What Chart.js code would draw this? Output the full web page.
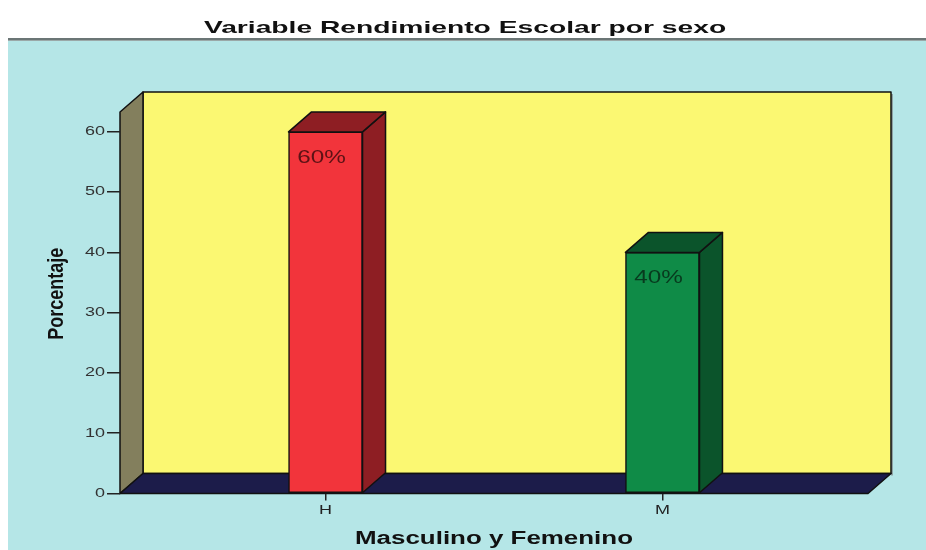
<!DOCTYPE html>
<html><head><meta charset="utf-8">
<script src="https://cdn.jsdelivr.net/npm/chart.js@4.4.0/dist/chart.umd.min.js"></script>
<style>html,body{margin:0;padding:0;background:#fff}#wrap{width:926px;height:550px}</style>
</head><body><div id="wrap"><canvas id="c" width="926" height="550"></canvas></div>
<script>
const chartTitle = 'Variable Rendimiento Escolar por sexo';
const categories = ['H', 'M'];
const values = [60, 40];
const valueLabels = ['60%', '40%'];
const yTicks = [0, 10, 20, 30, 40, 50, 60];
const xTitle = 'Masculino y Femenino';
const yTitle = 'Porcentaje';

const frontColors = ['#f2343b', '#0f8b47'];
const sideColors = ['#8e1e23', '#0b542b'];
const labelColors = ['#5c1215', '#083a1e'];
const DX = 23, DY = 20;

// draw text stretched (the reference renders its text horizontally widened)
function stretchedFill(ctx, sx, sy) {
  const ft = CanvasRenderingContext2D.prototype.fillText;
  ctx.fillText = function (t, x, y) {
    ctx.save();
    ctx.translate(x, y);
    ctx.scale(sx, sy);
    ft.call(ctx, t, 0, 0);
    ctx.restore();
  };
  return () => { delete ctx.fillText; };
}

const stretchPlugin = {
  id: 'stretch',
  beforeDraw(chart) {
    const ctx = chart.ctx;
    const wrap = (obj, name, sx, sy, dx, dy) => {
      if (!obj || obj['_w_' + name]) return;
      const orig = obj[name];
      obj[name] = function (...a) {
        ctx.save();
        ctx.translate(dx || 0, dy || 0);
        const undo = stretchedFill(ctx, sx, sy);
        let r;
        try { r = orig.apply(this, a); } finally { undo(); ctx.restore(); }
        return r;
      };
      obj['_w_' + name] = true;
    };
    wrap(chart.scales.x, 'drawTitle', 1.44, 1);
    wrap(chart.scales.y, 'drawTitle', 1, 1.25, 0, -9);
    wrap(chart.scales.x, 'drawLabels', 1.5, 1);
    wrap(chart.scales.y, 'drawLabels', 1.5, 1);
    wrap(chart.titleBlock, 'draw', 1.66, 1, 31, 0);
  }
};

const backPlugin = {
  id: 'back',
  beforeDraw(chart) {
    const ctx = chart.ctx;
    const a = chart.chartArea;
    ctx.save();
    ctx.fillStyle = '#ffffff';
    ctx.fillRect(0, 0, chart.width, chart.height);
    ctx.fillStyle = '#b5e6e7';
    ctx.fillRect(8, 40, chart.width - 8, chart.height - 40);
    ctx.fillStyle = '#6b7676';
    ctx.fillRect(8, 38, chart.width - 8, 2);
    ctx.fillStyle = '#9aa8a8';
    ctx.fillRect(8, 40, chart.width - 8, 1);

    ctx.lineJoin = 'round';
    ctx.lineWidth = 1.5;
    ctx.strokeStyle = '#111';
    ctx.fillStyle = '#8fa3a3';
    ctx.fillRect(a.right + DX, a.top - DY + 2, 2, a.bottom - a.top);
    // back wall
    ctx.fillStyle = '#fbf872';
    ctx.beginPath();
    ctx.rect(a.left + DX, a.top - DY, a.right - a.left, a.bottom - a.top);
    ctx.fill(); ctx.stroke();
    // left wall
    ctx.fillStyle = '#837f5d';
    ctx.beginPath();
    ctx.moveTo(a.left, a.top);
    ctx.lineTo(a.left + DX, a.top - DY);
    ctx.lineTo(a.left + DX, a.bottom - DY);
    ctx.lineTo(a.left, a.bottom);
    ctx.closePath();
    ctx.fill(); ctx.stroke();
    // floor
    ctx.fillStyle = '#1c1c4a';
    ctx.beginPath();
    ctx.moveTo(a.left, a.bottom);
    ctx.lineTo(a.left + DX, a.bottom - DY);
    ctx.lineTo(a.right + DX, a.bottom - DY);
    ctx.lineTo(a.right, a.bottom);
    ctx.closePath();
    ctx.fill(); ctx.stroke();
    ctx.restore();
  }
};

const barPlugin = {
  id: 'bar3d',
  afterDatasetsDraw(chart) {
    const ctx = chart.ctx;
    const meta = chart.getDatasetMeta(0);
    ctx.save();
    ctx.lineJoin = 'round';
    ctx.lineWidth = 1.5;
    ctx.strokeStyle = '#111';
    meta.data.forEach((el, i) => {
      const p = el.getProps(['x', 'y', 'base', 'width'], true);
      const l = p.x - p.width / 2, r = p.x + p.width / 2;
      ctx.fillStyle = sideColors[i];
      ctx.beginPath();
      ctx.moveTo(r, p.y);
      ctx.lineTo(r + DX, p.y - DY);
      ctx.lineTo(r + DX, p.base - DY);
      ctx.lineTo(r, p.base);
      ctx.closePath();
      ctx.fill(); ctx.stroke();
      ctx.beginPath();
      ctx.moveTo(l, p.y);
      ctx.lineTo(l + DX, p.y - DY);
      ctx.lineTo(r + DX, p.y - DY);
      ctx.lineTo(r, p.y);
      ctx.closePath();
      ctx.fill(); ctx.stroke();
      ctx.fillStyle = labelColors[i];
      ctx.font = '18px "Liberation Sans"';
      ctx.textAlign = 'center';
      ctx.textBaseline = 'middle';
      ctx.save();
      ctx.translate(p.x - 4, p.y + 26);
      ctx.scale(1.35, 1);
      ctx.fillText(valueLabels[i], 0, 0);
      ctx.restore();
    });
    ctx.restore();
  }
};

new Chart(document.getElementById('c'), {
  type: 'bar',
  data: {
    datasets: [{
      data: categories.map((c, i) => ({ x: i, y: values[i] })),
      backgroundColor: frontColors,
      borderColor: '#111',
      borderWidth: 1.5,
      borderSkipped: false,
      barThickness: 74
    }]
  },
  options: {
    responsive: false,
    animation: false,
    devicePixelRatio: 1,
    layout: { padding: { left: 0, right: 58, top: 0, bottom: 0 } },
    plugins: {
      legend: { display: false },
      tooltip: { enabled: false },
      title: {
        display: true, text: chartTitle, color: '#111',
        font: { family: 'Liberation Sans', size: 17, weight: 'bold', lineHeight: 1.2 },
        padding: { top: 18, bottom: 73.6 }
      }
    },
    scales: {
      x: {
        type: 'linear', min: -0.61, max: 1.61, offset: false,
        afterBuildTicks: s => { s.ticks = categories.map((c, i) => ({ value: i })); },
        afterFit: s => { s.height = 56.5; },
        ticks: { callback: v => categories[v], color: '#222', font: { family: 'Liberation Sans', size: 12 }, padding: 3, autoSkip: false, maxRotation: 0 },
        grid: { offset: false, drawOnChartArea: false, drawTicks: true, tickLength: 7, color: '#222', lineWidth: 1.5 },
        border: { display: false },
        title: { display: true, text: xTitle, color: '#111', font: { family: 'Liberation Sans', size: 18, weight: 'bold', lineHeight: 1.2 }, padding: { top: 0, bottom: 0 } }
      },
      y: {
        min: 0, max: 63.3,
        afterBuildTicks: s => { s.ticks = yTicks.map(v => ({ value: v })); },
        afterFit: s => { s.width = 120; },
        ticks: { color: '#333', font: { family: 'Liberation Sans', size: 12 }, padding: 2 },
        grid: { drawOnChartArea: false, drawTicks: true, tickLength: 13, color: '#222', lineWidth: 1.5 },
        border: { display: false },
        title: { display: true, text: yTitle, color: '#111', font: { family: 'Liberation Sans', size: 18, weight: 'bold', lineHeight: 1.2 }, padding: { top: 46.2, bottom: 0 } }
      }
    }
  },
  plugins: [backPlugin, stretchPlugin, barPlugin]
});
</script>
</body></html>
